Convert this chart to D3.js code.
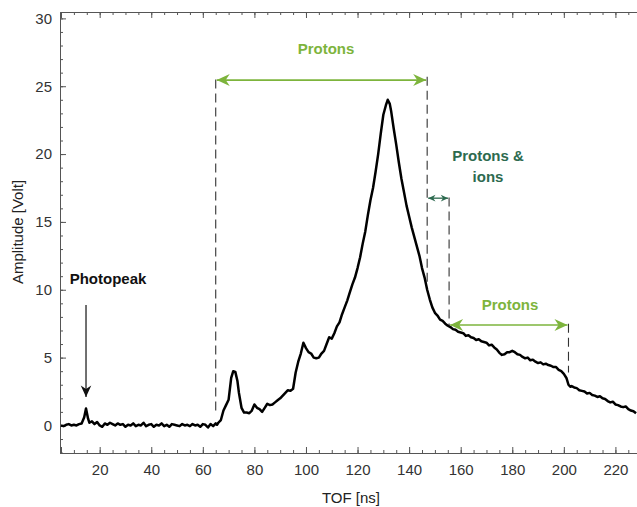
<!DOCTYPE html>
<html><head><meta charset="utf-8">
<script src="https://cdn.jsdelivr.net/npm/d3@7"></script>
<style>body{margin:0;background:#fff;} svg{display:block;font-family:"Liberation Sans",Arial,Helvetica,sans-serif;}</style>
</head><body><svg id="c" width="637" height="507"></svg>
<script>
const tof = [5,6,7,8,9,10,11,12,13,14,14.7,15.5,16,17,18,19,20,21,22,23,24,25,26,27,28,29,30,31,32,33,34,35,36,37,38,39,40,41,42,43,44,45,46,47,48,49,50,51,52,53,54,55,56,57,58,59,60,61,62,63,64,65,65.5,66,67,68,69,70,71,71.8,72.6,73.4,74,75,76,77,78,79,80,81,82,83,84,85,86,87,88,89,90,91,92,93,94,95,96,97,98,99,100,101,102,103,104,105,106,107,108,109,110,111,112,113,114,115,116,117,118,119,120,121,122,123,124,125,126,127,128,129,130,131,131.7,132.5,133,134,135,136,137,138,139,140,141,142,143,144,145,146,147,148,149,150,151,152,153,154,155,156,157,158,159,160,161,162,163,164,165,166,167,168,169,170,171,172,173,174,175,176,177,178,179,180,181,182,183,184,185,186,187,188,189,190,191,192,193,194,195,196,197,198,199,200,201,201.8,202.5,203,204,205,206,207,208,209,210,211,212,213,214,215,216,217,218,219,220,221,222,223,224,225,226,227,228];
const amplitude = [0.0,-0.05,0.05,0.1,0.0,0.05,0.0,0.1,0.15,0.6,1.25,0.5,0.2,0.3,0.1,0.25,0.0,-0.1,0.15,0.05,0.2,0.1,0.0,0.15,0.05,0.1,-0.1,0.05,0.0,0.15,-0.05,0.05,0.0,0.2,-0.05,0.05,0.1,-0.1,0.05,0.0,0.15,-0.05,0.05,-0.1,0.1,0.05,0.0,-0.05,0.1,0.0,0.05,-0.05,0.1,0.0,0.05,-0.1,0.1,0.05,-0.15,0.1,-0.05,0.15,0.05,0.2,0.4,1.1,1.5,1.9,3.5,4.0,3.95,3.3,2.4,1.3,0.95,0.95,0.9,1.1,1.55,1.3,1.2,1.0,1.3,1.6,1.5,1.55,1.7,1.85,2.0,2.2,2.4,2.6,2.55,2.7,3.9,4.7,5.3,6.1,5.7,5.4,5.3,5.0,4.95,5.0,5.3,5.5,6.0,6.5,6.4,6.8,7.3,7.6,8.2,8.7,9.2,9.8,10.4,10.9,11.6,12.4,13.4,14.3,15.5,16.6,17.5,18.7,20.0,21.5,22.9,23.6,24.0,23.7,23.2,21.9,20.7,19.4,18.2,17.2,16.2,15.4,14.6,13.9,13.2,12.5,11.6,10.9,10.0,9.3,8.7,8.3,8.1,7.8,7.7,7.5,7.35,7.25,7.1,7.05,6.9,6.85,6.8,6.6,6.65,6.5,6.45,6.3,6.35,6.2,6.15,6.1,5.9,5.95,5.75,5.6,5.35,5.2,5.25,5.4,5.4,5.5,5.4,5.25,5.2,5.05,4.95,5.0,4.8,4.85,4.7,4.6,4.65,4.5,4.55,4.45,4.4,4.3,4.3,4.1,4.0,3.8,3.5,3.0,2.85,2.9,2.8,2.75,2.6,2.55,2.5,2.35,2.4,2.25,2.2,2.1,2.15,2.0,1.95,1.8,1.7,1.75,1.55,1.5,1.4,1.35,1.4,1.2,1.1,1.05,0.9];
const xMajorTicks = [20,40,60,80,100,120,140,160,180,200,220];
const yMajorTicks = [0,5,10,15,20,25,30];
const xLabel = "TOF [ns]";
const yLabel = "Amplitude [Volt]";
// region boundaries (ns) and annotation labels
const regionBounds = [65, 147, 155.5, 201.8];
const dashTop = [25.5, 25.7, 16.8, 7.5];
const dashBottom = [0.8, 10.3, 7.4, 3.9];
const annotations = ["Protons", "Protons &", "ions", "Protons", "Photopeak"];
const photopeakTof = 14.7;

const svg = d3.select("#c");
const x = d3.scaleLinear().domain([5, 230]).range([61, 641.2]);
const y = d3.scaleLinear().domain([-2.03, 30.47]).range([453, 12]);
const axisColor = "#555";
const lightGreen = "#7db43c", darkGreen = "#2d6a4f";

function styleAxis(g){
  g.select(".domain").attr("stroke", axisColor);
  g.selectAll(".tick line").attr("stroke", axisColor);
  g.selectAll("text").attr("fill","#333").attr("font-size","15px").attr("font-family",'"Liberation Sans",Arial,sans-serif');
}
const xMinor = d3.range(5, 231, 5);
const yMinor = d3.range(-2, 31, 1);
// bottom
svg.append("g").attr("transform","translate(0,453)").call(d3.axisBottom(x).tickValues(xMinor).tickSize(-3).tickFormat("")).call(styleAxis);
svg.append("g").attr("transform","translate(0,453)").call(d3.axisBottom(x).tickValues(xMajorTicks).tickSize(-6).tickPadding(11)).call(styleAxis);
// top
svg.append("g").attr("transform","translate(0,12)").call(d3.axisTop(x).tickValues(xMinor).tickSize(-3).tickFormat("")).call(styleAxis);
svg.append("g").attr("transform","translate(0,12)").call(d3.axisTop(x).tickValues(xMajorTicks).tickSize(-6).tickFormat("")).call(styleAxis);
// left
svg.append("g").attr("transform","translate(60,0)").call(d3.axisLeft(y).tickValues(yMinor).tickSize(-3).tickFormat("")).call(styleAxis);
svg.append("g").attr("transform","translate(60,0)").call(d3.axisLeft(y).tickValues(yMajorTicks).tickSize(-6).tickPadding(8)).call(styleAxis);

// axis titles
svg.append("text").attr("x",351).attr("y",503).attr("text-anchor","middle").attr("font-size","15px").attr("fill","#222").text(xLabel);
svg.append("text").attr("transform","translate(23,232) rotate(-90)").attr("text-anchor","middle").attr("font-size","15px").attr("fill","#222").text(yLabel);

// defs: arrowheads
const defs = svg.append("defs");
function marker(id, color, size){
  const m = defs.append("marker").attr("id",id).attr("viewBox","-14 -7 16 14")
    .attr("refX",0).attr("refY",0).attr("markerWidth",size).attr("markerHeight",size)
    .attr("markerUnits","userSpaceOnUse").attr("orient","auto-start-reverse");
  m.append("path").attr("d","M0,0 L-13,-6 L-9,0 L-13,6 Z").attr("fill",color);
}
marker("agl", lightGreen, 16);
marker("agd", darkGreen, 9);
marker("ablk", "#111", 14);

// dashed region lines
regionBounds.forEach((b,i)=>{
  svg.append("line").attr("x1",x(b)).attr("x2",x(b)).attr("y1",y(dashTop[i])).attr("y2",y(dashBottom[i]))
    .attr("stroke","#333").attr("stroke-width",1.1).attr("stroke-dasharray","9,5");
});

// data curve
const pts = tof.map((t,i)=>[t, amplitude[i]]);
svg.append("path").datum(pts).attr("fill","none").attr("stroke","#000").attr("stroke-width",2.5)
  .attr("stroke-linejoin","round")
  .attr("d", d3.line().x(d=>x(d[0])).y(d=>y(d[1])));

// arrows
function dblArrow(x1,x2,yv,color,mk,w){
  svg.append("line").attr("x1",x1).attr("x2",x2).attr("y1",yv).attr("y2",yv)
    .attr("stroke",color).attr("stroke-width",w)
    .attr("marker-start","url(#"+mk+")").attr("marker-end","url(#"+mk+")");
}
dblArrow(x(regionBounds[0])+1, x(regionBounds[1])-1, y(25.45), lightGreen, "agl", 1.6);
dblArrow(x(regionBounds[1])+1, x(regionBounds[2])-1, y(16.75), darkGreen, "agd", 1.3);
dblArrow(x(regionBounds[2])+1, x(regionBounds[3])-1, y(7.4), lightGreen, "agl", 1.6);

// labels
const lbl = (t,xx,yy,c)=>svg.append("text").attr("x",xx).attr("y",yy).attr("text-anchor","middle")
  .attr("font-size","15px").attr("font-weight","bold").attr("fill",c).text(t);
lbl(annotations[0], 326, 54, lightGreen);
lbl(annotations[1], 488, 161, darkGreen);
lbl(annotations[2], 488, 182, darkGreen);
lbl(annotations[3], 510, 310, lightGreen);
lbl(annotations[4], 108, 284, "#111");

// photopeak arrow
svg.append("line").attr("x1",x(photopeakTof)).attr("x2",x(photopeakTof)).attr("y1",305).attr("y2",y(2.1))
  .attr("stroke","#111").attr("stroke-width",1.2).attr("marker-end","url(#ablk)");
</script></body></html>
